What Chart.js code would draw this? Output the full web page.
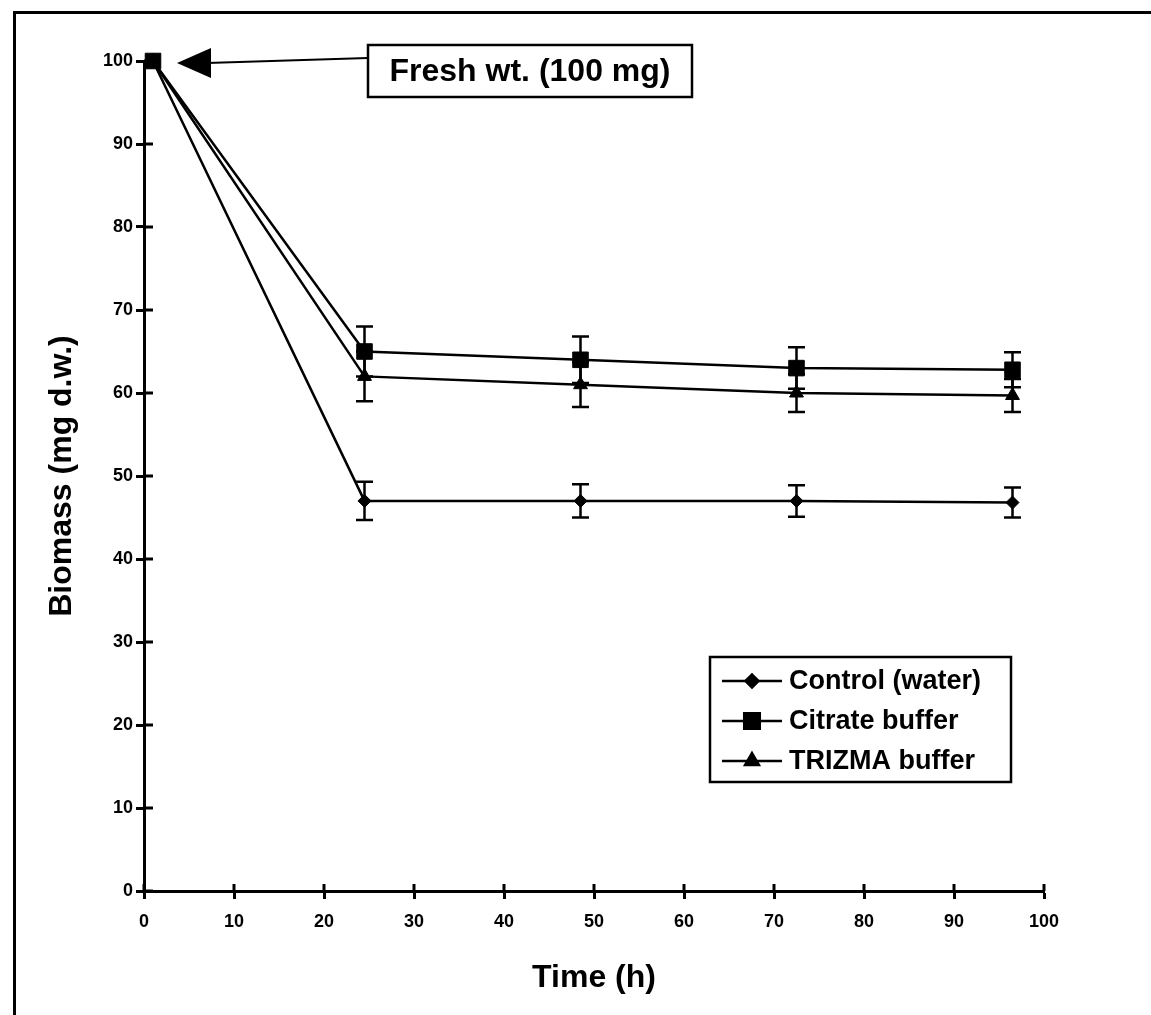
<!DOCTYPE html>
<html>
<head>
<meta charset="utf-8">
<script src="https://cdn.jsdelivr.net/npm/chart.js@4/dist/chart.umd.min.js"></script>
<style>
  html, body { margin: 0; padding: 0; background: #fff; }
  canvas { display: block; }
</style>
</head>
<body>
<canvas id="chart" width="1151" height="1015"></canvas>
<script>
// time points (h) and biomass values
const hours = [1, 24.5, 48.5, 72.5, 96.5];
const controlWater = [100, 47, 47, 47, 46.8];
const controlErr = [0, 2.3, 2.0, 1.9, 1.8];
const citrateBuffer = [100, 65, 64, 63, 62.8];
const citrateErr = [0, 3.0, 2.8, 2.5, 2.1];
const trizmaBuffer = [100, 62, 61, 60, 59.7];
const trizmaErr = [0, 3.0, 2.7, 2.3, 2.0];
const seriesLabels = ['Control (water)', 'Citrate buffer', 'TRIZMA buffer'];
const annotationText = 'Fresh wt. (100 mg)';

const FONT = '"Liberation Sans", Arial, sans-serif';

const toPoints = (xs, ys) => xs.map((x, i) => ({ x: x, y: ys[i] }));

const makeSet = (label, ys, errs, style, radius) => ({
  label: label,
  data: toPoints(hours, ys),
  errors: errs,
  borderColor: '#000',
  backgroundColor: '#000',
  borderWidth: 2.5,
  pointStyle: style,
  pointRadius: radius,
  pointBorderWidth: 1,
  pointBackgroundColor: '#000',
  pointBorderColor: '#000',
  tension: 0,
  clip: false
});

const datasets = [
  makeSet(seriesLabels[0], controlWater, controlErr, 'rectRot', 6.5),
  makeSet(seriesLabels[1], citrateBuffer, citrateErr, 'rect', 11),
  makeSet(seriesLabels[2], trizmaBuffer, trizmaErr, 'triangle', 8)
];

// outer frame (only top and left edges survive in the scan)
const framePlugin = {
  id: 'frame',
  beforeDraw(chart) {
    const ctx = chart.ctx;
    ctx.save();
    ctx.strokeStyle = '#000';
    ctx.lineWidth = 3;
    ctx.beginPath();
    ctx.moveTo(1151, 12.5);
    ctx.lineTo(14.5, 12.5);
    ctx.lineTo(14.5, 1015);
    ctx.stroke();
    ctx.restore();
  }
};

// tick marks that cross the axis line (inner half)
const innerTicks = {
  id: 'innerTicks',
  afterDraw(chart) {
    const { ctx, scales: { x, y }, chartArea } = chart;
    ctx.save();
    ctx.strokeStyle = '#000';
    ctx.lineWidth = 3;
    ctx.beginPath();
    x.ticks.forEach(t => {
      const px = x.getPixelForValue(t.value);
      ctx.moveTo(px, chartArea.bottom);
      ctx.lineTo(px, chartArea.bottom - 7);
    });
    y.ticks.forEach(t => {
      const py = y.getPixelForValue(t.value);
      ctx.moveTo(chartArea.left, py);
      ctx.lineTo(chartArea.left + 9, py);
    });
    ctx.stroke();
    ctx.restore();
  }
};

const errorBars = {
  id: 'errorBars',
  beforeDatasetsDraw(chart) {
    const { ctx, scales: { x, y } } = chart;
    ctx.save();
    ctx.strokeStyle = '#000';
    ctx.lineWidth = 2.5;
    chart.data.datasets.forEach(ds => {
      ds.data.forEach((p, i) => {
        const e = ds.errors[i];
        if (!e) return;
        const px = x.getPixelForValue(p.x);
        const top = y.getPixelForValue(p.y + e);
        const bot = y.getPixelForValue(p.y - e);
        ctx.beginPath();
        ctx.moveTo(px, top); ctx.lineTo(px, bot);
        ctx.moveTo(px - 8.5, top); ctx.lineTo(px + 8.5, top);
        ctx.moveTo(px - 8.5, bot); ctx.lineTo(px + 8.5, bot);
        ctx.stroke();
      });
    });
    ctx.restore();
  }
};

const drawMarker = (ctx, style, radius, cx, cy) => {
  Chart.helpers.drawPoint(ctx, { pointStyle: style, radius: radius, rotation: 0, borderWidth: 1 }, cx, cy);
};

// boxed legend inside the plot, lower right
const boxLegend = {
  id: 'boxLegend',
  afterDraw(chart) {
    const ctx = chart.ctx;
    const bx = 710, by = 657, bw = 301, bh = 125;
    ctx.save();
    ctx.fillStyle = '#fff';
    ctx.fillRect(bx, by, bw, bh);
    ctx.strokeStyle = '#000';
    ctx.lineWidth = 2.5;
    ctx.strokeRect(bx, by, bw, bh);
    ctx.font = 'bold 27px ' + FONT;
    ctx.textBaseline = 'middle';
    ctx.textAlign = 'left';
    chart.data.datasets.forEach((ds, i) => {
      const ry = by + 24 + i * 40;
      ctx.strokeStyle = '#000';
      ctx.fillStyle = '#000';
      ctx.lineWidth = 2.5;
      ctx.beginPath();
      ctx.moveTo(722, ry); ctx.lineTo(782, ry);
      ctx.stroke();
      drawMarker(ctx, ds.pointStyle, ds.pointRadius, 752, ry);
      ctx.fillStyle = '#000';
      ctx.fillText(ds.label, 789, ry + 1);
    });
    ctx.restore();
  }
};

// "Fresh wt." callout with arrow to the starting point
const callout = {
  id: 'callout',
  afterDraw(chart) {
    const { ctx, scales: { x, y } } = chart;
    const tipX = x.getPixelForValue(hours[0]) + 24;
    const tipY = y.getPixelForValue(citrateBuffer[0]) + 2;
    const bx = 368, by = 45, bw = 324, bh = 52;
    ctx.save();
    ctx.strokeStyle = '#000';
    ctx.fillStyle = '#000';
    ctx.lineWidth = 2;
    ctx.beginPath();
    ctx.moveTo(tipX + 30, tipY);
    ctx.lineTo(bx, by + 13);
    ctx.stroke();
    ctx.beginPath();
    ctx.moveTo(tipX, tipY);
    ctx.lineTo(tipX + 34, tipY - 15);
    ctx.lineTo(tipX + 34, tipY + 15);
    ctx.closePath();
    ctx.fill();
    ctx.lineWidth = 2.5;
    ctx.strokeRect(bx, by, bw, bh);
    ctx.font = 'bold 32px ' + FONT;
    ctx.textAlign = 'center';
    ctx.textBaseline = 'middle';
    ctx.fillText(annotationText, bx + bw / 2, by + bh / 2 + 1);
    ctx.restore();
  }
};

const tickFont = { family: FONT, size: 18, weight: 'bold' };
const titleFont = { family: FONT, size: 32, weight: 'bold' };

const chart = new Chart('chart', {
  type: 'line',
  data: { datasets: datasets },
  options: {
    responsive: false,
    animation: false,
    devicePixelRatio: 1,
    layout: { padding: { top: 61, right: 107, left: 0, bottom: 0 } },
    plugins: { legend: { display: false }, tooltip: { enabled: false } },
    scales: {
      x: {
        type: 'linear', min: 0, max: 100,
        ticks: { stepSize: 10, color: '#000', font: tickFont, padding: 12, maxRotation: 0 },
        grid: { drawOnChartArea: false, tickLength: 8, tickWidth: 3, tickColor: '#000' },
        border: { color: '#000', width: 3 },
        title: { display: true, text: 'Time (h)', color: '#000', font: titleFont, padding: { top: 0, bottom: 18 } },
        afterFit(s) { s.height = 124; }
      },
      y: {
        type: 'linear', min: 0, max: 100,
        ticks: { stepSize: 10, color: '#000', font: tickFont, padding: 3 },
        grid: { drawOnChartArea: false, tickLength: 8, tickWidth: 3, tickColor: '#000' },
        border: { color: '#000', width: 3 },
        title: { display: true, text: 'Biomass (mg d.w.)', color: '#000', font: titleFont, padding: { top: 43, bottom: 0 } },
        afterFit(s) { s.width = 144; }
      }
    }
  },
  plugins: [framePlugin, errorBars, innerTicks, boxLegend, callout]
});
</script>
</body>
</html>
